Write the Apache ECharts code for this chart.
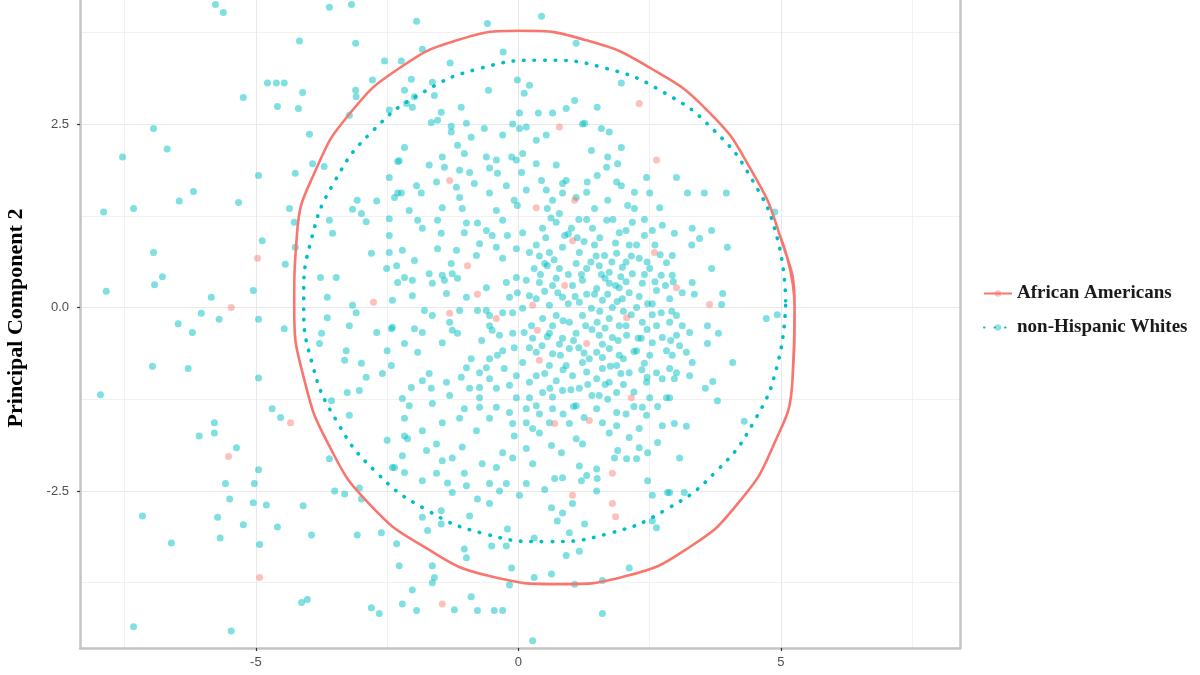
<!DOCTYPE html>
<html>
<head>
<meta charset="utf-8">
<title>PCA scatter – PC2</title>
<script src="https://cdn.jsdelivr.net/npm/echarts@6/dist/echarts.min.js"></script>
<style>
  html, body { margin: 0; padding: 0; background: #fff; }
  #chart { width: 1200px; height: 675px; }
</style>
</head>
<body>
<div id="chart"></div>
<script>
// PCA scores (PC1 on x, PC2 on y) with per-group 95% ellipses.

const X_MIN = -8.35, X_MAX = 8.41;
const Y_MIN = -4.64, Y_MAX = 4.19;
const xMajorTicks = [-5, 0, 5];
const xMinorTicks = [-7.5, -2.5, 2.5, 7.5];
const yMajorTicks = [-2.5, 0, 2.5];
const yMinorTicks = [-3.75, -1.25, 1.25, 3.75];
const groupNames = ["African Americans", "non-Hispanic Whites"];

// African Americans (salmon points)
const aaPoints = [
  [-4.97,0.67],[-5.47,0.0],[-2.76,0.07],[-4.34,-1.57],[-5.52,-2.03],[-4.93,-3.68],[-1.45,-4.04],
  [0.78,2.46],[-1.31,1.73],[0.34,1.36],[1.07,1.46],[2.30,2.78],[2.63,2.01],[-0.97,0.57],
  [-0.78,0.18],[-1.31,-0.08],[-0.42,-0.15],[1.03,0.91],[2.59,0.75],[3.01,0.27],[3.64,0.04],
  [0.88,0.30],[0.27,0.03],[0.36,-0.31],[2.06,-0.14],[1.30,-0.49],[0.40,-0.72],[2.15,-1.23],
  [0.69,-1.58],[1.35,-1.54],[1.79,-2.26],[1.03,-2.56],[1.79,-2.67],[1.85,-2.85]
];

// non-Hispanic Whites (teal points)
const whitesPoints = [
  // left / upper-left
  [-5.77,4.13],[-5.62,4.02],[-3.60,4.09],[-3.18,4.13],[-4.17,3.63],[-3.10,3.60],[-2.55,3.36],
  [-5.24,2.86],[-4.78,3.06],[-4.61,3.06],[-4.46,3.06],[-4.11,2.93],[-4.59,2.74],[-4.19,2.71],
  [-2.78,3.10],[-3.10,2.96],[-3.09,2.87],[-6.95,2.44],[-7.54,2.05],[-6.69,2.16],[-3.98,2.36],
  [-3.22,2.62],[-3.92,1.96],[-3.70,1.92],[-4.95,1.80],[-4.25,1.83],[-6.19,1.58],[-6.46,1.45],
  [-7.33,1.35],[-7.90,1.30],[-5.33,1.43],[-4.36,1.35],[-4.27,1.16],[-3.60,1.19],[-3.07,1.46],
  [-2.70,1.45],[-3.16,1.34],[-2.99,1.28],[-2.90,1.17],[-2.46,1.21],[-3.54,1.01],[-4.88,0.91],
  [-4.25,0.82],[-2.80,0.74],[-2.46,0.75],[-2.51,0.53],[-6.95,0.75],[-6.78,0.42],[-6.93,0.31],
  [-4.44,0.59],[-3.77,0.41],[-3.47,0.41],[-7.85,0.22],[-5.05,0.23],[-5.85,0.14],[-6.04,-0.08],
  [-5.70,-0.16],[-6.48,-0.22],[-4.95,-0.16],[-6.21,-0.34],[-4.46,-0.29],[-3.64,0.14],[-3.64,-0.14],
  [-3.16,0.03],[-3.09,-0.07],[-3.22,-0.25],[-2.70,-0.34],[-2.42,-0.29],[-2.27,2.0],[-2.30,1.56],
  // lower-left
  [-6.97,-0.80],[-6.29,-0.83],[-4.95,-0.96],[-7.96,-1.19],[-4.69,-1.38],[-4.53,-1.50],[-5.79,-1.57],
  [-5.79,-1.71],[-6.08,-1.75],[-5.37,-1.91],[-4.95,-2.21],[-5.58,-2.40],[-5.03,-2.40],[-5.50,-2.61],
  [-5.05,-2.66],[-4.80,-2.69],[-4.10,-2.70],[-7.16,-2.84],[-5.73,-2.86],[-5.24,-2.96],[-4.59,-2.99],
  [-3.94,-3.10],[-6.61,-3.21],[-5.68,-3.14],[-4.93,-3.23],[-3.07,-3.10],[-2.61,-3.07],
  [-4.13,-4.02],[-4.02,-3.98],[-2.80,-4.09],[-2.65,-4.17],[-7.33,-4.35],[-5.47,-4.41],[-3.60,-2.06],
  [-3.50,-2.50],[-3.31,-2.54],[-2.99,-2.61],[-3.03,-2.46],[-3.26,-1.16],[-3.03,-1.13],[-3.22,-1.47],
  [-3.56,-1.27],[-3.28,-0.59],[-3.31,-0.72],[-2.99,-0.76],[-2.90,-0.95],[-2.59,-0.90],[-2.50,-0.59],
  [-2.50,-1.81],[-2.36,-2.18],[-3.79,-0.49],[-3.75,-0.35],
  // upper-middle
  [-1.94,3.90],[-0.59,3.87],[0.44,3.97],[-1.83,3.52],[-2.23,3.36],[-1.30,3.33],[-0.29,3.48],
  [1.10,3.60],[-2.04,3.11],[-1.64,3.07],[-1.60,2.89],[-2.17,2.96],[-1.98,2.87],[-2.13,2.78],
  [-2.02,2.73],[-2.46,2.69],[-1.09,2.73],[-0.57,2.96],[-0.02,3.10],[0.11,2.92],[0.21,3.03],
  [1.07,2.82],[0.91,2.71],[0.65,2.65],[0.38,2.65],[0.02,2.65],[-1.47,2.66],[-1.66,2.52],
  [-1.54,2.55],[-1.28,2.47],[-1.28,2.39],[-0.99,2.51],[-0.90,2.32],[-0.65,2.44],[-0.30,2.35],
  [-0.11,2.50],[0.02,2.44],[0.15,2.46],[0.34,2.28],[0.53,2.35],[1.22,2.50],[-2.17,2.18],
  [-2.30,1.99],[-1.70,1.94],[-1.45,2.05],[-1.41,1.91],[-1.16,2.21],[-1.03,2.10],[-1.12,1.87],
  [-0.93,1.84],[-0.61,2.05],[-0.42,2.01],[-0.55,1.90],[-0.40,1.83],[-0.13,2.05],[-0.04,2.01],
  [0.08,2.10],[0.06,1.84],[0.34,1.96],[0.72,1.94],[0.44,1.73],[0.84,1.69],[0.91,1.73],
  [-2.46,1.77],[-2.23,1.56],[-1.94,1.66],[-1.85,1.56],[-1.56,1.71],[-1.18,1.64],[-1.12,1.50],
  [-0.84,1.69],[-0.55,1.56],[-0.23,1.66],[-0.08,1.46],[0.15,1.60],[0.53,1.60],[0.65,1.46],
  [0.84,1.56],[1.10,1.50],[1.30,1.57],[-2.08,1.32],[-1.45,1.36],[-1.07,1.35],[-0.42,1.32],
  [-0.02,1.39],[0.55,1.35],[0.78,1.28],[-2.36,1.50],
  // upper-right
  [1.96,3.06],[1.50,2.73],[1.58,2.44],[1.73,2.39],[1.26,2.51],[1.39,2.14],[1.96,2.18],
  [1.70,2.05],[1.89,1.96],[1.68,1.91],[1.50,1.80],[1.31,1.71],[1.87,1.71],[1.96,1.66],
  [2.44,1.77],[3.01,1.77],[2.21,1.57],[2.50,1.56],[3.22,1.56],[3.54,1.56],[3.96,1.56],
  [1.45,1.35],[1.70,1.46],[2.08,1.39],[2.21,1.35],[2.69,1.36],[4.88,1.30],
  // centre-left
  [-1.92,1.19],[-1.54,1.19],[-1.83,1.08],[-2.46,0.98],[-0.99,1.15],[-1.03,1.02],[-0.78,1.15],
  [-0.61,1.05],[-0.30,1.19],[-0.50,0.98],[-0.21,0.98],[0.08,1.02],[-1.47,1.01],[-2.21,0.78],
  [-1.54,0.80],[-1.18,0.78],[-0.74,0.87],[-0.42,0.82],[-0.80,0.71],[-0.30,0.67],[-0.04,0.80],
  [0.21,0.75],[-1.98,0.64],[-2.32,0.57],[-1.28,0.60],[-1.26,0.46],[-1.70,0.46],[-1.45,0.44],
  [-2.17,0.41],[-2.30,0.34],[-2.02,0.37],[-1.64,0.33],[-1.41,0.37],[-1.16,0.40],[-0.61,0.27],
  [-0.23,0.34],[-0.04,0.41],[0.15,0.37],[-0.02,0.20],[0.21,0.16],[-0.17,0.14],[-0.99,0.14],
  [-2.02,0.16],[-1.37,0.19],[-2.40,0.10],[-1.79,-0.04],[-1.64,-0.11],[-1.12,-0.04],[-0.78,-0.04],
  [-0.61,-0.04],[-0.55,-0.11],[-0.30,-0.07],[-0.11,-0.07],[0.08,-0.01],[0.25,-0.25],[-2.40,-0.27],
  [-1.98,-0.29],[-1.83,-0.34],[-1.31,-0.20],[-1.26,-0.31],[-1.16,-0.35],[-0.55,-0.25],[-0.50,-0.31],
  [-0.36,-0.38],[-0.11,-0.35],[0.11,-0.34],[-2.17,-0.49],[-1.45,-0.48],[-0.70,-0.45],[-0.30,-0.59],
  [-0.08,-0.55],[0.21,-0.55],[-1.92,-0.61],[-0.90,-0.70],[-0.55,-0.70],[-0.40,-0.65],
  [-2.42,-0.79],[-0.99,-0.82],[-0.61,-0.82],[-0.27,-0.83],[0.08,-0.75],[-1.70,-0.90],[-1.09,-0.95],
  [-0.74,-0.89],[-1.83,-1.00],[-1.37,-1.02],[-0.55,-0.97],[-0.04,-0.93],[0.21,-1.02],[-2.04,-1.09],
  [-1.66,-1.10],[-0.93,-1.10],[-0.74,-1.09],[-0.42,-1.10],[-0.17,-1.06],[-2.21,-1.24],[-1.31,-1.20],
  [-0.74,-1.23],[-0.04,-1.23],[0.21,-1.23],[-2.08,-1.34],[-1.64,-1.31],[-1.03,-1.38],[-0.74,-1.36],
  [-0.42,-1.36],[-0.17,-1.43],[0.15,-1.38],[-2.17,-1.51],[-1.45,-1.57],[-1.12,-1.51],[-0.55,-1.51],
  [-0.11,-1.58],[0.15,-1.57],[-1.83,-1.68],[-0.80,-1.68],
  // dense centre-right
  [0.46,1.08],[0.72,1.16],[1.01,1.08],[1.41,1.08],[1.68,1.19],[1.92,1.02],[2.17,1.16],
  [2.40,0.98],[2.74,1.12],[0.34,0.85],[0.59,0.75],[0.84,0.82],[1.16,0.75],[1.45,0.85],
  [1.64,0.71],[1.87,0.74],[2.11,0.85],[2.30,0.67],[2.82,0.61],[0.30,0.53],[0.55,0.57],
  [0.78,0.53],[1.10,0.60],[1.30,0.53],[1.54,0.57],[1.73,0.48],[1.98,0.55],[2.17,0.46],
  [2.50,0.53],[2.72,0.44],[0.40,0.34],[0.65,0.30],[1.03,0.30],[1.22,0.37],[1.49,0.26],
  [1.73,0.33],[1.92,0.27],[2.11,0.20],[2.36,0.33],[2.63,0.23],[2.88,0.12],[0.34,0.12],
  [0.59,0.03],[0.84,0.14],[1.16,0.07],[1.39,-0.01],[1.60,0.10],[1.79,0.0],[1.98,0.12],
  [2.25,0.0],[2.46,0.05],[2.72,-0.07],[0.46,-0.15],[0.72,-0.11],[0.97,-0.20],[1.22,-0.11],
  [1.50,-0.20],[1.73,-0.15],[1.92,-0.25],[2.36,-0.20],[2.63,-0.25],[2.88,-0.20],[0.27,-0.42],
  [0.59,-0.35],[0.84,-0.42],[1.10,-0.35],[1.54,-0.38],[1.79,-0.41],[2.06,-0.38],[2.34,-0.42],
  [2.74,-0.41],[0.34,-0.61],[0.65,-0.63],[0.97,-0.56],[1.49,-0.61],[1.73,-0.56],[1.92,-0.65],
  [2.25,-0.59],[2.50,-0.65],[2.82,-0.59],[0.59,-0.79],[0.91,-0.79],[1.22,-0.75],[1.60,-0.83],
  [1.87,-0.79],[2.11,-0.89],[2.40,-0.76],[2.63,-0.89],[2.88,-0.83],[0.34,-0.93],[0.72,-1.00],
  [1.03,-0.93],[1.49,-0.97],[1.73,-1.02],[2.44,-1.02],[2.74,-0.97],[0.46,-1.16],[0.84,-1.13],
  [1.16,-1.10],[1.54,-1.20],[1.87,-1.16],[2.50,-1.23],[2.82,-1.23],[0.34,-1.34],[0.65,-1.38],
  [1.10,-1.34],[1.49,-1.38],[1.87,-1.43],[2.36,-1.36],[0.59,-1.57],[0.97,-1.58],[1.60,-1.57],
  [1.87,-1.61],[2.44,-1.47],[2.30,-1.65],[2.74,-1.61],[0.27,-1.65],
  [1.25,0.90],[1.55,0.95],[1.85,0.88],[2.05,0.62],[2.25,0.85],[1.38,0.62],[1.65,0.40],
  [1.95,0.42],[2.30,0.15],[2.00,-0.05],[1.70,0.18],[1.45,0.18],[1.28,-0.25],[1.60,-0.50],
  [1.90,-0.45],[2.20,-0.60],[2.45,-0.30],[2.60,0.35],[1.08,0.15],[0.95,0.45],[0.72,0.40],
  [1.35,-0.70],[1.75,-0.80],[2.00,-1.05],[2.20,-1.35],[1.40,-1.20],[0.80,-0.65],[0.55,-0.40],
  [0.50,0.60],[0.95,1.00],[2.60,0.85],[2.45,-0.95],[2.90,-0.45],[2.95,0.35],[1.15,-0.55],
  [1.05,-1.35],[1.80,1.20],[2.40,1.20],[0.60,-1.10],[1.30,1.20],
  [0.52,0.95],[0.88,0.98],[1.12,0.95],[1.48,0.70],[1.78,0.62],[2.15,0.70],[2.45,0.62],
  [2.70,0.72],[0.42,0.45],[0.68,0.65],[1.20,0.45],[1.58,0.45],[1.85,0.30],[2.05,0.35],
  [2.40,0.45],[2.80,0.30],[0.50,0.22],[0.75,0.20],[0.95,0.05],[1.30,0.18],[1.55,-0.05],
  [1.88,0.08],[2.15,-0.10],[2.55,-0.10],[0.65,-0.25],[0.85,-0.18],[1.05,-0.45],[1.40,-0.30],
  [1.65,-0.28],[2.05,-0.25],[2.28,-0.42],[2.55,-0.48],[0.45,-0.52],[0.78,-0.50],[1.25,-0.62],
  [1.60,-0.68],[2.00,-0.70],[2.35,-0.85],[0.50,-0.90],[0.85,-0.85],[1.30,-0.88],[1.95,-0.90],
  [2.20,-1.15],[0.65,-1.22],[1.00,-1.12],[1.32,-1.05],[1.70,-1.25],[2.05,-1.45],[0.85,-1.45],
  [1.25,-1.50],[0.40,-1.45],[1.65,-1.05],[2.65,-1.35],[2.55,0.05],[1.15,1.20],[0.62,1.22],
  [2.05,1.05],[2.55,1.05],[0.40,0.70],[2.92,-0.05],
  // right
  [2.97,1.01],[3.31,1.08],[3.45,0.94],[3.30,0.85],[3.68,1.05],[3.98,0.82],[2.93,0.71],
  [3.68,0.53],[2.93,0.44],[3.31,0.34],[3.12,0.20],[3.35,0.18],[3.89,0.19],[3.87,0.04],
  [3.01,-0.11],[4.72,-0.15],[4.93,-0.10],[3.60,-0.25],[3.12,-0.25],[3.81,-0.35],[3.01,-0.38],
  [3.26,-0.34],[3.60,-0.49],[3.07,-0.52],[3.20,-0.61],[2.93,-0.65],[3.31,-0.75],[4.08,-0.75],
  [3.01,-0.89],[3.26,-0.93],[2.97,-0.97],[3.70,-1.01],[3.56,-1.10],[2.88,-1.23],[3.79,-1.27],
  [4.30,-1.55],[2.97,-1.58],[3.20,-1.62],
  // lower-middle
  [-2.17,-1.75],[-2.11,-1.79],[-1.56,-1.86],[-1.07,-1.90],[-0.30,-1.98],[-0.11,-2.05],[-0.08,-1.75],
  [0.15,-1.92],[-1.75,-1.95],[-2.21,-2.02],[-1.45,-2.09],[-1.26,-2.05],[-0.69,-2.13],[-0.42,-2.18],
  [-2.40,-2.18],[-2.17,-2.25],[-1.83,-2.36],[-1.56,-2.26],[-1.35,-2.39],[-1.03,-2.26],[-0.99,-2.43],
  [-0.55,-2.40],[-0.23,-2.40],[0.15,-2.40],[-1.26,-2.52],[-0.36,-2.50],[0.02,-2.56],[-0.78,-2.61],
  [-0.55,-2.67],[-1.47,-2.77],[-0.93,-2.84],[-1.83,-2.86],[-1.47,-2.95],[-0.21,-3.02],[-1.73,-3.04],
  [-2.32,-3.22],[-0.51,-3.25],[-0.23,-3.25],[-1.03,-3.29],[-0.99,-3.41],[-2.27,-3.52],[-1.64,-3.52],
  [-0.13,-3.55],[-1.60,-3.68],[-1.64,-3.75],[-2.02,-3.85],[-0.17,-3.78],[-2.21,-4.04],[-1.94,-4.13],
  [-0.90,-3.94],[-1.22,-4.12],[-0.78,-4.13],[-0.46,-4.13],[-0.30,-4.13],[0.27,-4.54],
  // lower-right
  [0.40,-1.71],[0.63,-1.88],[0.82,-1.98],[1.10,-1.79],[1.22,-1.86],[1.73,-1.71],[2.11,-1.77],
  [2.30,-1.91],[2.46,-1.98],[2.65,-1.84],[1.89,-1.95],[1.83,-2.05],[2.06,-2.06],[2.25,-2.06],
  [0.27,-2.13],[1.16,-2.16],[1.49,-2.20],[0.69,-2.33],[0.84,-2.32],[1.20,-2.36],[1.30,-2.29],
  [1.50,-2.33],[2.46,-2.36],[0.50,-2.48],[1.49,-2.50],[2.55,-2.56],[2.84,-2.52],[0.63,-2.73],
  [0.84,-2.80],[1.03,-2.67],[0.74,-2.91],[1.26,-2.95],[2.55,-2.91],[2.63,-3.00],[0.97,-3.07],
  [0.30,-3.14],[0.91,-3.38],[1.16,-3.32],[2.11,-3.55],[0.30,-3.68],[0.63,-3.63],[1.07,-3.77],
  [1.60,-3.72],[1.60,-4.17],[3.07,-2.05],[3.16,-2.52],[2.88,-2.52]
];

// ellipse outlines; the red one repeats a point at each
// end so the smoothed closed path has no corner where it meets itself
const aaEllipse = [
  [5.22,-0.98],
  [5.26,0.0],[4.98,0.98],[4.42,1.89],[3.62,2.67],[2.52,3.26],[1.30,3.64],[0.05,3.77],
  [-1.17,3.64],[-2.27,3.26],[-3.18,2.67],[-3.85,1.89],[-4.22,0.98],[-4.27,0.0],[-4.08,-0.98],
  [-3.60,-1.89],[-2.85,-2.67],[-1.80,-3.26],[-0.55,-3.66],[0.80,-3.77],[2.05,-3.66],[3.27,-3.26],
  [4.18,-2.67],[4.85,-1.89],[5.22,-0.98],[5.26,0.0],
  [4.98,0.98]
];
const whitesEllipse = [
  [5.09,0.09],[4.93,0.94],[4.46,1.73],[3.73,2.41],[2.77,2.93],[1.66,3.26],[0.47,3.37],
  [-0.72,3.26],[-1.82,2.93],[-2.77,2.41],[-3.49,1.73],[-3.94,0.94],[-4.09,0.09],[-3.93,-0.76],
  [-3.46,-1.55],[-2.73,-2.23],[-1.77,-2.75],[-0.66,-3.08],[0.53,-3.19],[1.72,-3.08],[2.82,-2.75],
  [3.77,-2.23],[4.49,-1.55],[4.94,-0.76],[5.09,0.09]
];

const RED = "#F8766D", TEAL = "#00BFC4";
const GRID_MAJOR = "#e9e9e9", GRID_MINOR = "#f1f1f1";
const FRAME = { show: true, onZero: false, lineStyle: { color: "#c4c4c4", width: 2.5 } };

const chart = echarts.init(document.getElementById("chart"), null, { renderer: "canvas" });

const labelStyle = { color: "#4d4d4d", fontSize: 13, fontFamily: "Liberation Sans" };

chart.setOption({
  animation: false,
  backgroundColor: "#ffffff",
  grid: { left: 80, right: 240, top: 0, bottom: 27 },
  xAxis: [
    { type: "value", min: X_MIN, max: X_MAX, position: "bottom",
      axisLine: FRAME,
      axisTick: { show: true, length: 3, customValues: xMajorTicks, lineStyle: { color: "#333", width: 1.2 } },
      axisLabel: Object.assign({ customValues: xMajorTicks, margin: 8 }, labelStyle),
      splitLine: { show: true, lineStyle: { color: GRID_MAJOR, width: 1 } } },
    { type: "value", min: X_MIN, max: X_MAX, position: "top",
      axisLine: { show: false, onZero: false },
      axisTick: { show: false, customValues: xMinorTicks },
      axisLabel: { show: false },
      splitLine: { show: true, lineStyle: { color: GRID_MINOR, width: 1 } } },
  ],
  yAxis: [
    { type: "value", min: Y_MIN, max: Y_MAX, position: "left",
      axisLine: FRAME,
      axisTick: { show: true, length: 3, customValues: yMajorTicks, lineStyle: { color: "#333", width: 1.2 } },
      axisLabel: Object.assign({ customValues: yMajorTicks, margin: 11, formatter: (v) => (+v).toFixed(1) }, labelStyle),
      splitLine: { show: true, lineStyle: { color: GRID_MAJOR, width: 1 } } },
    { type: "value", min: Y_MIN, max: Y_MAX, position: "right",
      axisLine: FRAME,
      axisTick: { show: false, customValues: yMinorTicks },
      axisLabel: { show: false },
      splitLine: { show: true, lineStyle: { color: GRID_MINOR, width: 1 } } },
  ],
  legend: {
    orient: "vertical", left: 978, top: 279, itemWidth: 28, itemHeight: 8, itemGap: 15,
    data: groupNames,
    textStyle: { fontFamily: "Liberation Serif", fontWeight: "bold", fontSize: 19, color: "#1a1a1a" },
  },
  graphic: [{
    type: "text", x: 16, y: 318, rotation: Math.PI / 2,
    style: { text: "Principal Component 2", fill: "#000",
      font: "bold 22px 'Liberation Serif'", textAlign: "center", textVerticalAlign: "middle" },
  }],
  series: [
    { name: "whites-points", type: "scatter", data: whitesPoints, symbolSize: 7,
      itemStyle: { color: TEAL, opacity: 0.5 } },
    { name: "aa-points", type: "scatter", data: aaPoints, symbolSize: 7,
      itemStyle: { color: RED, opacity: 0.45 } },
    { name: groupNames[0], type: "line", data: aaEllipse, smooth: 0.5, symbol: "none",
      lineStyle: { color: RED, width: 2.6 }, itemStyle: { color: RED, opacity: 0.45 }, z: 5 },
    { name: groupNames[1], type: "line", data: whitesEllipse, smooth: 0.5, symbol: "none",
      lineStyle: { color: TEAL, width: 3.6, type: [0.5, 10], cap: "round" },
      itemStyle: { color: TEAL, opacity: 0.45 }, z: 5 },
  ],
});
</script>
</body>
</html>
